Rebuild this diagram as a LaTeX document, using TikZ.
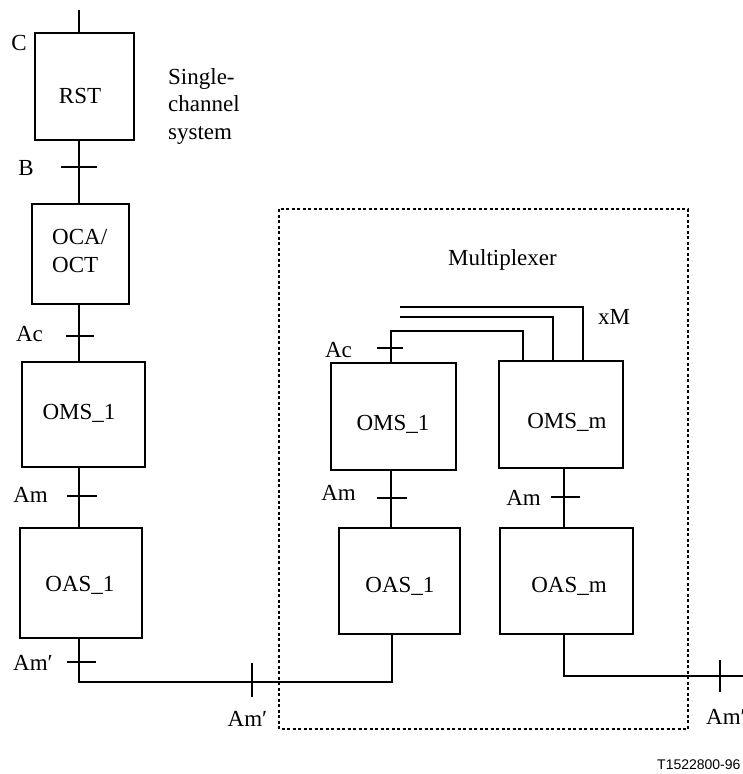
\documentclass[tikz,border=0pt]{standalone}
\usepackage{fontspec}
\setmainfont{Liberation Serif}
\newfontfamily\tsans{Liberation Sans}
\begin{document}
\begin{tikzpicture}[x=1pt,y=-1pt,
  box/.style={draw,line width=1.2pt,inner sep=0pt,minimum width=#1},
  wire/.style={line width=1.2pt},
  lbl/.style={inner sep=0pt,font=\fontsize{23}{27.5}\selectfont},
  mux/.style={line width=1.2pt,dash pattern=on 3pt off 2.5pt}]
\useasboundingbox (0,0) rectangle (743,774);
% boxes
\node[box=99pt,minimum height=107pt] (rst) at (84.5,86.5) {};
\node[box=97pt,minimum height=100pt] (oca) at (80.5,254) {};
\node[box=123pt,minimum height=105pt] (omsL) at (83.5,414.5) {};
\node[box=122pt,minimum height=110pt] (oasL) at (81,583) {};
\node[box=125pt,minimum height=107pt] (omsR) at (393.5,416.5) {};
\node[box=124pt,minimum height=107pt] (omsM) at (561,414.5) {};
\node[box=121pt,minimum height=106pt] (oasR) at (399.5,581) {};
\node[box=133pt,minimum height=106pt] (oasM) at (566.5,581) {};
% box texts
\node[lbl] (rstT) at (80,96) {RST};
\node[lbl,align=left,anchor=west,font=\fontsize{23}{28}\selectfont] (ocaT) at (52,251) {OCA/\\OCT};
\node[lbl] (omsLT) at (79,413) {OMS\_1};
\node[lbl] (oasLT) at (80,585) {OAS\_1};
\node[lbl] (omsRT) at (393,424) {OMS\_1};
\node[lbl] (omsMT) at (567,422) {OMS\_m};
\node[lbl] (oasRT) at (400,586) {OAS\_1};
\node[lbl] (oasMT) at (569,586) {OAS\_m};
% column coordinates
\coordinate (colL) at (79,0);
\coordinate (colR) at (391,0);
\coordinate (colM) at (564,0);
\coordinate (top) at (79,10);
\coordinate (busL) at (79,682);
\coordinate (busR) at (392,682);
\coordinate (outM) at (564,676);
\coordinate (outE) at (743,676);
% left column connectors
\draw[wire] (top) -- (rst.north -| colL);
\draw[wire] (rst.south -| colL) -- (oca.north -| colL);
\draw[wire] (oca.south -| colL) -- (omsL.north -| colL);
\draw[wire] (omsL.south -| colL) -- (oasL.north -| colL);
\draw[wire] (oasL.south -| colL) -- (busL) -- (busR) -- (oasR.south -| busR);
% multiplexer connectors
\coordinate (l1s) at (400,307);
\coordinate (l1e) at (583,307);
\coordinate (l2s) at (400,317);
\coordinate (l2e) at (553,317);
\coordinate (l3s) at (391,331);
\coordinate (l3e) at (523,331);
\draw[wire] (l1s) -- (l1e) -- (omsM.north -| l1e);
\draw[wire] (l2s) -- (l2e) -- (omsM.north -| l2e);
\draw[wire] (omsR.north -| l3s) -- (l3s) -- (l3e) -- (omsM.north -| l3e);
\draw[wire] (omsR.south -| colR) -- (oasR.north -| colR);
\draw[wire] (omsM.south -| colM) -- (oasM.north -| colM);
\draw[wire] (oasM.south -| colM) -- (outM) -- (outE);
% ticks
\draw[wire] (61,167) -- (97,167);
\draw[wire] (66,336) -- (94,336);
\draw[wire] (67,496) -- (97,496);
\draw[wire] (67,662) -- (96,662);
\draw[wire] (377,348) -- (403,348);
\draw[wire] (377,498) -- (407,498);
\draw[wire] (551,497) -- (580,497);
\draw[wire] (252,663) -- (252,697);
\draw[wire] (720,660) -- (720,692);
% multiplexer frame
\draw[mux] (279,209) rectangle (688,729);
% labels
\node[lbl] (lC) at (19,43) {C};
\node[lbl] (lB) at (26,168) {B};
\node[lbl,anchor=north west,align=left] (lsc) at (168,68) {Single-\\channel\\system};
\node[lbl] (lAc1) at (29.5,334) {Ac};
\node[lbl] (lAm1) at (30.5,495) {Am};
\node[lbl] (lAp1) at (33,663) {Am′};
\node[lbl] (lAp2) at (247.5,719) {Am′};
\node[lbl,anchor=west] (lAp3) at (706,717) {Am′};
\node[lbl] (lAc2) at (338.5,350) {Ac};
\node[lbl] (lAm2) at (338.5,493) {Am};
\node[lbl] (lAm3) at (523.5,498) {Am};
\node[lbl,anchor=west] (lxM) at (598,317) {xM};
\node[lbl] (lmux) at (502.5,260) {Multiplexer};
\node[inner sep=0pt,anchor=west,font=\tsans\fontsize{14}{16}\selectfont] (lT) at (657,765) {T1522800-96};
\end{tikzpicture}
\end{document}
